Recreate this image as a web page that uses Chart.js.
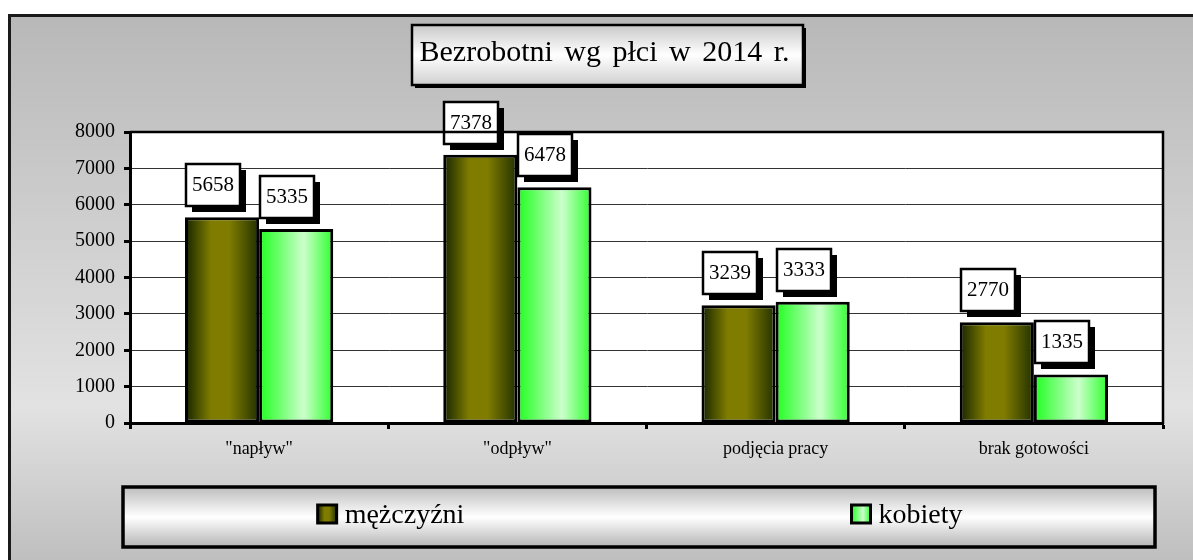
<!DOCTYPE html>
<html>
<head>
<meta charset="utf-8">
<script src="https://cdn.jsdelivr.net/npm/chart.js@4/dist/chart.umd.min.js"></script>
<style>
  html, body { margin: 0; padding: 0; background: #ffffff; }
  #wrap { width: 1193px; height: 560px; position: relative; }
</style>
</head>
<body>
<div id="wrap"><canvas id="c" width="1193" height="560"></canvas></div>
<script>
// ---- data ----
const chartTitle = 'Bezrobotni wg płci w 2014 r.';
const categories = ['"napływ"', '"odpływ"', 'podjęcia pracy', 'brak gotowości'];
const seriesNames = ['mężczyźni', 'kobiety'];
const menValues = [5658, 7378, 3239, 2770];
const womenValues = [5335, 6478, 3333, 1335];
const yMin = 0;
const yMax = 8000;
const yStep = 1000;

// ---- styles ----
const SERIF = '"Liberation Serif", "Times New Roman", serif';
const CAT_PCT = 0.574;
const menStops = [[0, '#162400'], [0.35, '#7f7c00'], [0.6, '#7f7c00'], [1, '#223000']];
const womenStops = [[0, '#1eff1e'], [0.6, '#ccffcc'], [1, '#2eff2e']];

function makeGrad(ctx, x0, x1, stops) {
  const g = ctx.createLinearGradient(x0, 0, x1, 0);
  stops.forEach(s => g.addColorStop(s[0], s[1]));
  return g;
}

function barFill(stops) {
  return (c) => {
    const chart = c.chart;
    const xs = chart.scales && chart.scales.x;
    if (!xs || c.type !== 'data' || !chart.chartArea) return stops[1][1];
    const center = xs.getPixelForValue(c.dataIndex);
    const catW = xs.width / categories.length;
    const barW = catW * CAT_PCT / 2;
    const left = c.datasetIndex === 0 ? center - barW : center;
    return makeGrad(chart.ctx, left, left + barW, stops);
  };
}

const backgroundPlugin = {
  id: 'bgPlugin',
  beforeDraw(chart) {
    const ctx = chart.ctx;
    const W = chart.width, H = chart.height;
    ctx.save();
    ctx.fillStyle = '#ffffff';
    ctx.fillRect(0, 0, W, H);
    const g = ctx.createLinearGradient(0, 15, 0, H);
    g.addColorStop(0, '#b8b8b8');
    g.addColorStop(0.72, '#e2e2e2');
    g.addColorStop(1, '#bfbfbf');
    ctx.fillStyle = g;
    ctx.fillRect(9, 15, W, H);
    ctx.lineWidth = 3;
    ctx.strokeStyle = '#1a1a1a';
    ctx.strokeRect(9.5, 15.5, W + 20, H + 20);
    // plot area white
    const a = chart.chartArea;
    ctx.fillStyle = '#ffffff';
    ctx.fillRect(a.left, a.top, a.right - a.left, a.bottom - a.top);
    ctx.restore();
  },
  afterDraw(chart) {
    const ctx = chart.ctx;
    const a = chart.chartArea;
    ctx.save();
    ctx.strokeStyle = '#000';
    ctx.lineWidth = 2.5;
    ctx.beginPath();
    ctx.moveTo(a.left, a.top);
    ctx.lineTo(a.right, a.top);
    ctx.lineTo(a.right, a.bottom + 1);
    ctx.stroke();

    // Title box
    const tx = 412, ty = 25, tw = 391, th = 60;
    ctx.fillStyle = '#000';
    ctx.fillRect(tx + 3, ty + 3, tw, th);
    const tg = ctx.createLinearGradient(0, ty, 0, ty + th);
    tg.addColorStop(0, '#c9c9c9');
    tg.addColorStop(0.5, '#ffffff');
    tg.addColorStop(1, '#d0d0d0');
    ctx.fillStyle = tg;
    ctx.fillRect(tx, ty, tw, th);
    ctx.lineWidth = 2.5;
    ctx.strokeStyle = '#000';
    ctx.strokeRect(tx, ty, tw, th);
    ctx.fillStyle = '#000';
    ctx.font = '30px ' + SERIF;
    try { ctx.wordSpacing = '4px'; } catch (e) {}
    ctx.textAlign = 'center';
    ctx.textBaseline = 'alphabetic';
    ctx.fillText(chartTitle, tx + tw / 2 - 3, ty + 36);
    try { ctx.wordSpacing = '0px'; } catch (e) {}

    // Legend box
    const lx = 123, ly = 487, lw = 1032, lh = 60;
    const lg = ctx.createLinearGradient(0, ly, 0, ly + lh);
    lg.addColorStop(0, '#bdbdbd');
    lg.addColorStop(0.5, '#ffffff');
    lg.addColorStop(1, '#b5b5b5');
    ctx.fillStyle = lg;
    ctx.fillRect(lx, ly, lw, lh);
    ctx.lineWidth = 3.5;
    ctx.strokeStyle = '#000';
    ctx.strokeRect(lx, ly, lw, lh);

    ctx.font = '28px ' + SERIF;
    ctx.textAlign = 'left';
    ctx.textBaseline = 'alphabetic';
    const itemStops = [menStops, womenStops];
    seriesNames.forEach((name, i) => {
      const half = lw / seriesNames.length;
      const cx = lx + half * i + half / 2 + 10;
      const tw2 = ctx.measureText(name).width;
      const itemW = 19 + 8 + tw2;
      const sx = cx - itemW / 2;
      const sy = 505;
      ctx.fillStyle = makeGrad(ctx, sx, sx + 19, itemStops[i]);
      ctx.fillRect(sx, sy, 19, 18);
      ctx.lineWidth = 3;
      ctx.strokeStyle = '#000';
      ctx.strokeRect(sx, sy, 19, 18);
      ctx.fillStyle = '#000';
      ctx.fillText(name, sx + 27, 523);
    });
    ctx.restore();
  },
  afterDatasetsDraw(chart) {
    const ctx = chart.ctx;
    ctx.save();
    ctx.font = '21px ' + SERIF;
    ctx.textAlign = 'center';
    ctx.textBaseline = 'middle';
    chart.data.datasets.forEach((ds, di) => {
      const meta = chart.getDatasetMeta(di);
      meta.data.forEach((el, i) => {
        const bw = 54, bh = 42;
        const cx = el.x - 9;
        const bx = Math.round(cx - bw / 2);
        const by = Math.round(el.y - 11 - bh);
        ctx.fillStyle = '#000';
        ctx.fillRect(bx + 6, by + 6, bw, bh);
        ctx.fillStyle = '#fff';
        ctx.fillRect(bx, by, bw, bh);
        ctx.lineWidth = 2.5;
        ctx.strokeStyle = '#000';
        ctx.strokeRect(bx, by, bw, bh);
        ctx.fillStyle = '#000';
        ctx.fillText(String(ds.data[i]), bx + bw / 2, by + bh / 2);
      });
    });
    ctx.restore();
  }
};

new Chart(document.getElementById('c'), {
  type: 'bar',
  data: {
    labels: categories,
    datasets: [
      {
        label: seriesNames[0],
        data: menValues,
        backgroundColor: barFill(menStops),
        borderColor: '#000',
        borderWidth: 3,
        borderSkipped: false,
        categoryPercentage: CAT_PCT,
        barPercentage: 1.0
      },
      {
        label: seriesNames[1],
        data: womenValues,
        backgroundColor: barFill(womenStops),
        borderColor: '#000',
        borderWidth: 3,
        borderSkipped: false,
        categoryPercentage: CAT_PCT,
        barPercentage: 1.0
      }
    ]
  },
  options: {
    responsive: false,
    animation: false,
    events: [],
    layout: { padding: { top: 132, right: 30, left: 0, bottom: 0 } },
    plugins: {
      legend: { display: false },
      title: { display: false },
      tooltip: { enabled: false }
    },
    scales: {
      x: {
        afterFit(s) { s.height = 137; },
        grid: {
          display: true,
          drawOnChartArea: false,
          drawTicks: true,
          tickLength: 6,
          tickWidth: 3,
          tickColor: '#000',
          offset: true
        },
        border: { display: true, color: '#000', width: 3 },
        ticks: {
          color: '#000',
          font: { family: SERIF, size: 18 },
          padding: 9,
          maxRotation: 0,
          autoSkip: false
        }
      },
      y: {
        min: yMin,
        max: yMax,
        afterFit(s) { s.width = 130; },
        grid: {
          color: '#333333',
          lineWidth: 1,
          tickLength: 6,
          tickWidth: 3,
          tickColor: '#000'
        },
        border: { display: true, color: '#000', width: 3 },
        ticks: {
          stepSize: yStep,
          color: '#000',
          font: { family: SERIF, size: 20 },
          padding: 9,
          callback: (v) => String(v)
        }
      }
    }
  },
  plugins: [backgroundPlugin]
});
</script>
</body>
</html>
